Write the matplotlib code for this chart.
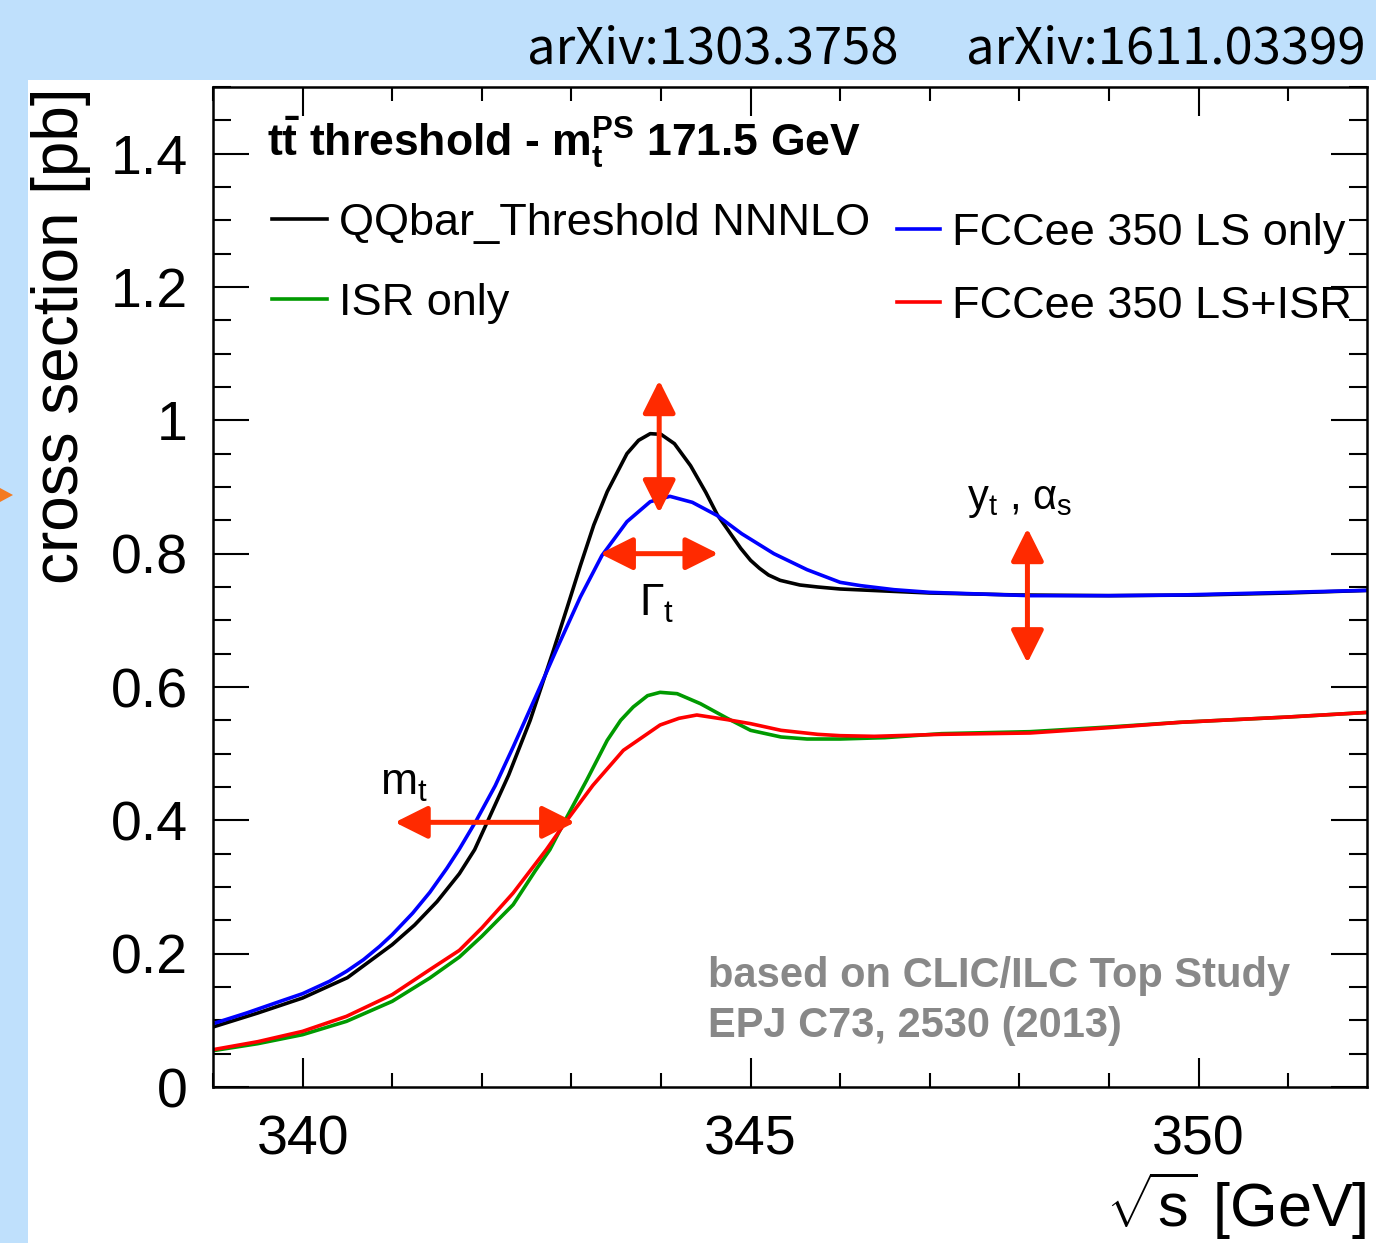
import matplotlib
matplotlib.use("Agg")
import matplotlib.pyplot as plt
from matplotlib.patches import Rectangle, Polygon
from matplotlib.ticker import MultipleLocator, FuncFormatter

# ---- data ----
# QQbar_Threshold NNNLO
qq_x = [339.0, 339.5, 340.0, 340.5, 341.0, 341.25, 341.5, 341.75, 341.92, 342.07, 342.3, 342.54,
        342.8, 342.95, 343.1, 343.25, 343.4, 343.62, 343.75, 343.88, 344.0, 344.15, 344.33, 344.5,
        344.63, 344.75, 344.89, 345.0, 345.1, 345.2, 345.33, 345.55, 345.75, 346.0, 346.5, 347.0,
        348.0, 349.0, 350.0, 351.0, 351.9]
qq_y = [0.090, 0.111, 0.1335, 0.164, 0.2135, 0.243, 0.278, 0.320, 0.356, 0.400, 0.468, 0.550,
        0.655, 0.718, 0.782, 0.843, 0.893, 0.950, 0.970, 0.980, 0.979, 0.965, 0.932, 0.892,
        0.858, 0.835, 0.808, 0.790, 0.778, 0.768, 0.760, 0.753, 0.750, 0.747, 0.744, 0.741,
        0.738, 0.737, 0.738, 0.741, 0.745]

# FCCee 350 LS only
ls_x = [339.0, 339.375, 339.75, 340.0, 340.3, 340.49, 340.68, 340.86, 341.0, 341.23, 341.42, 341.61,
        341.75, 341.94, 342.15, 342.35, 342.6, 342.83, 343.1, 343.34, 343.62, 343.88, 344.1, 344.35,
        344.63, 344.9, 345.26, 345.63, 346.0, 346.23, 346.6, 347.0, 348.12, 349.0, 349.79, 351.0, 351.9]
ls_y = [0.095, 0.111, 0.1285, 0.140, 0.1585, 0.1735, 0.191, 0.211, 0.2285, 0.261, 0.292, 0.328,
        0.357, 0.400, 0.452, 0.510, 0.585, 0.655, 0.735, 0.797, 0.848, 0.878, 0.886, 0.877,
        0.857, 0.830, 0.800, 0.776, 0.757, 0.752, 0.746, 0.742, 0.737, 0.737, 0.738, 0.742, 0.745]

# ISR only
isr_x = [339.0, 339.5, 340.0, 340.49, 341.0, 341.42, 341.75, 342.0, 342.35, 342.6, 342.76, 342.93,
         343.17, 343.4, 343.55, 343.69, 343.85, 343.99, 344.18, 344.44, 344.74, 345.0, 345.34, 345.63,
         346.0, 346.5, 347.13, 348.12, 349.0, 349.79, 351.0, 351.9]
isr_y = [0.0545, 0.065, 0.0785, 0.0985, 0.1285, 0.1635, 0.195, 0.226, 0.2735, 0.325, 0.356, 0.400,
         0.460, 0.520, 0.550, 0.570, 0.587, 0.592, 0.590, 0.575, 0.553, 0.535, 0.525, 0.522,
         0.522, 0.524, 0.530, 0.533, 0.540, 0.547, 0.555, 0.562]

# FCCee 350 LS+ISR
lsisr_x = [339.0, 339.5, 340.0, 340.49, 341.0, 341.42, 341.75, 342.0, 342.35, 342.72, 342.95, 343.24,
           343.58, 343.99, 344.2, 344.4, 344.74, 345.0, 345.34, 345.75, 346.0, 346.38, 347.13, 348.12,
           349.0, 349.79, 351.0, 351.9]
lsisr_y = [0.056, 0.068, 0.0835, 0.106, 0.1385, 0.176, 0.205, 0.2385, 0.291, 0.356, 0.400, 0.4525,
           0.505, 0.543, 0.553, 0.558, 0.551, 0.545, 0.535, 0.529, 0.527, 0.526, 0.529, 0.531,
           0.539, 0.547, 0.555, 0.562]

labels = ["QQbar_Threshold NNNLO", "ISR only", "FCCee 350 LS only", "FCCee 350 LS+ISR"]

# ---- style ----
plt.rcParams["font.family"] = ["Liberation Sans", "DejaVu Sans"]
plt.rcParams["mathtext.fontset"] = "custom"
plt.rcParams["mathtext.rm"] = "Liberation Sans"
plt.rcParams["mathtext.it"] = "Liberation Sans"
plt.rcParams["mathtext.bf"] = "Liberation Sans:bold"

W, H = 1376, 1243
fig = plt.figure(figsize=(W / 100, H / 100), dpi=100)
fig.patch.set_facecolor("#bfe0fc")

# white slide area and the small orange marker on the left
fig.add_artist(Rectangle((28 / W, 0), 1 - 28 / W, (H - 80) / H, transform=fig.transFigure,
                         facecolor="white", edgecolor="none", zorder=-1))
fig.add_artist(Polygon([(0, 1 - 488 / H), (13 / W, 1 - 495 / H), (0, 1 - 502 / H)],
                       closed=True, transform=fig.transFigure, facecolor="#f47b20",
                       edgecolor="none", zorder=-1))

fig.text(898 / W, 1 - 50 / H, "arXiv:1303.3758", ha="right", va="center", fontsize=36.5,
         family=["Noto Sans CJK TC", "DejaVu Sans"])
fig.text(1366 / W, 1 - 50 / H, "arXiv:1611.03399", ha="right", va="center", fontsize=36.5,
         family=["Noto Sans CJK TC", "DejaVu Sans"])

ax = fig.add_axes([213 / W, 1 - 1087 / H, (1367 - 213) / W, (1087 - 87) / H])

lw = 2.6
l_qq, = ax.plot(qq_x, qq_y, color="black", lw=lw, label=labels[0])
l_isr, = ax.plot(isr_x, isr_y, color="#009a00", lw=lw, label=labels[1])
l_ls, = ax.plot(ls_x, ls_y, color="#0000ff", lw=lw, label=labels[2])
l_lsisr, = ax.plot(lsisr_x, lsisr_y, color="#ff0000", lw=lw, label=labels[3])

ax.set_xlim(339.0, 351.88)
ax.set_ylim(0, 1.5)

ax.xaxis.set_major_locator(MultipleLocator(5))
ax.xaxis.set_minor_locator(MultipleLocator(1))
ax.yaxis.set_major_locator(MultipleLocator(0.2))
ax.yaxis.set_minor_locator(MultipleLocator(0.05))
ax.yaxis.set_major_formatter(FuncFormatter(lambda v, p: "%g" % round(v, 2)))

ax.tick_params(which="both", direction="in", top=True, right=True, width=1.5, labelsize=40)
ax.tick_params(axis="y", which="major", length=26, pad=18)
ax.tick_params(axis="y", which="minor", length=13)
ax.tick_params(axis="x", which="major", length=21, pad=20)
ax.tick_params(axis="x", which="minor", length=10)
for s in ax.spines.values():
    s.set_linewidth(1.8)

ax.set_xlabel(r"$\sqrt{\mathrm{s}}$ [GeV]", fontsize=44, loc="right", labelpad=2)
ax.set_ylabel("cross section [pb]", fontsize=46, loc="top", labelpad=14)

# legends
leg1 = ax.legend(handles=[l_qq, l_isr], loc="upper left", bbox_to_anchor=(0.051, 0.884),
                 frameon=False, fontsize=32.5, borderpad=0, borderaxespad=0,
                 handlelength=1.22, handletextpad=0.27, labelspacing=0.86)
ax.add_artist(leg1)
ax.legend(handles=[l_ls, l_lsisr], loc="upper left", bbox_to_anchor=(0.593, 0.874),
          frameon=False, fontsize=32.5, borderpad=0, borderaxespad=0,
          handlelength=0.94, handletextpad=0.27, labelspacing=0.71)

ax.text(0.047, 0.945, r"$\mathbf{t\bar{t}}$ threshold - m$_\mathbf{t}^\mathbf{PS}$ 171.5 GeV",
        transform=ax.transAxes, fontsize=32, fontweight="bold", va="center", ha="left")

ax.text(0.429, 0.111, "based on CLIC/ILC Top Study", transform=ax.transAxes, fontsize=30,
        fontweight="bold", color="#888888", va="center", ha="left")
ax.text(0.429, 0.061, "EPJ C73, 2530 (2013)", transform=ax.transAxes, fontsize=30,
        fontweight="bold", color="#888888", va="center", ha="left")

# parameter sensitivity arrows
red = "#ff2a00"
aprops = dict(arrowstyle="<|-|>,head_length=2.0,head_width=1.0", color=red, lw=3.6,
              shrinkA=0, shrinkB=0, mutation_scale=10)
ax.annotate("", xy=(343.98, 1.06), xytext=(343.98, 0.861), arrowprops=aprops)
ax.annotate("", xy=(343.32, 0.80), xytext=(344.64, 0.80), arrowprops=aprops)
ax.annotate("", xy=(341.03, 0.397), xytext=(343.04, 0.397), arrowprops=aprops)
ax.annotate("", xy=(348.09, 0.838), xytext=(348.09, 0.636), arrowprops=aprops)

ax.text(343.95, 0.725, r"$\Gamma_\mathrm{t}$", fontsize=32, ha="center", va="center")
ax.text(341.13, 0.455, r"m$_\mathrm{t}$", fontsize=32, ha="center", va="center")
ax.text(348.0, 0.88, r"y$_\mathrm{t}$ , $\mathrm{\alpha}_\mathrm{s}$", fontsize=30,
        ha="center", va="center")

fig.savefig("out.png", dpi=100, facecolor=fig.get_facecolor())
